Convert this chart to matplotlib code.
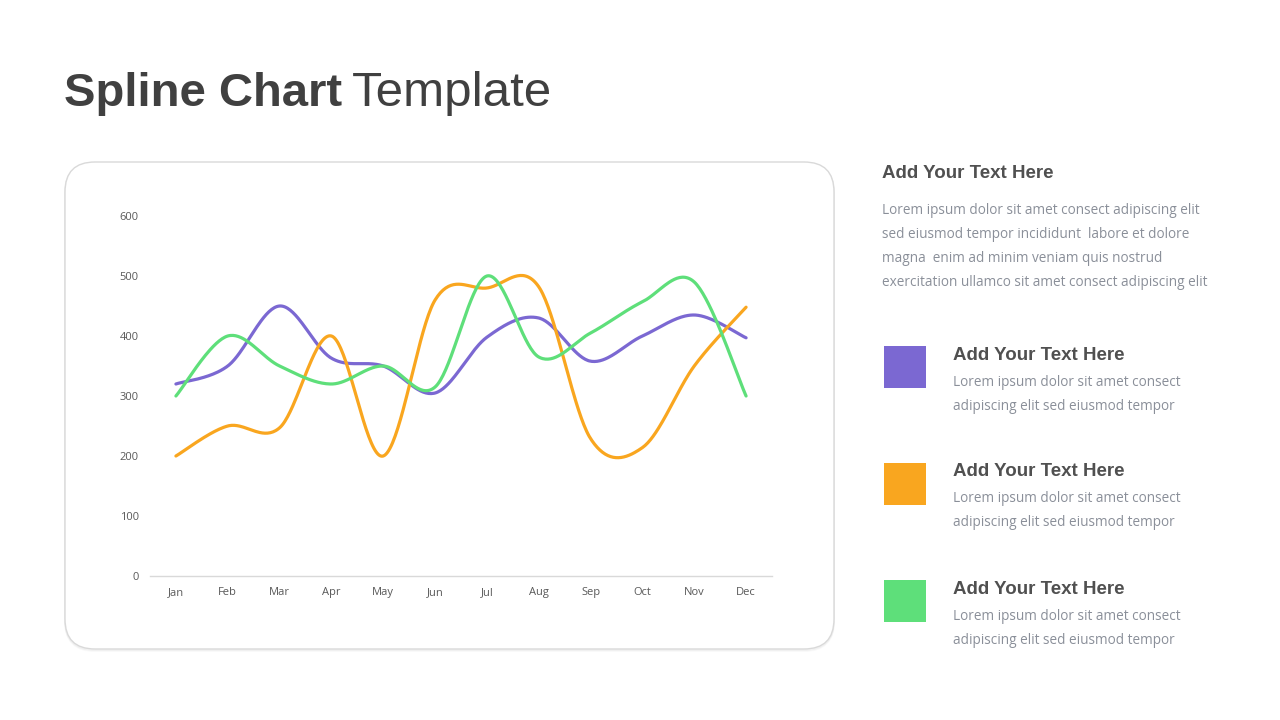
import numpy as np
import matplotlib
matplotlib.use("Agg")
import matplotlib.pyplot as plt
from matplotlib.patches import FancyBboxPatch, Rectangle

# Data
months = ['Jan', 'Feb', 'Mar', 'Apr', 'May', 'Jun', 'Jul', 'Aug', 'Sep', 'Oct', 'Nov', 'Dec']
purple_vals = [320, 350, 450, 363, 350, 305, 398, 430, 358, 400, 435, 397]
orange_vals = [200, 250, 247, 400, 200, 460, 480, 482, 229, 214, 350, 448]
green_vals = [300, 400, 350, 320, 350, 315, 500, 365, 405, 457, 490, 300]
y_ticks = [0, 100, 200, 300, 400, 500, 600]

PURPLE = '#7B68D2'
ORANGE = '#F9A61F'
GREEN = '#5EDF7A'
series = [(purple_vals, PURPLE), (orange_vals, ORANGE), (green_vals, GREEN)]

heading = 'Add Your Text Here'
intro_lines = ['Lorem ipsum dolor sit amet consect adipiscing elit',
               'sed eiusmod tempor incididunt  labore et dolore',
               'magna  enim ad minim veniam quis nostrud',
               'exercitation ullamco sit amet consect adipiscing elit']
item_lines = ['Lorem ipsum dolor sit amet consect',
              'adipiscing elit sed eiusmod tempor']

W, H = 1280, 720
AX_L, AX_R, AX_T, AX_B = 150, 772, 216, 576


def smooth(y, n=40):
    # Excel-like smoothed line: Catmull-Rom written as cubic Bezier segments
    y = np.asarray(y, float)
    x = np.arange(len(y), dtype=float)
    P = np.column_stack([x, y])
    m = len(P)
    t = np.linspace(0, 1, n)[:, None]
    pts = []
    for i in range(m - 1):
        p0, p3 = P[i], P[i + 1]
        prev, nxt = P[max(i - 1, 0)], P[min(i + 2, m - 1)]
        c1 = p0 + (p3 - prev) / 6
        c2 = p3 - (nxt - p0) / 6
        pts.append((1 - t) ** 3 * p0 + 3 * (1 - t) ** 2 * t * c1 + 3 * (1 - t) * t ** 2 * c2 + t ** 3 * p3)
    pts = np.vstack(pts)
    return pts[:, 0], pts[:, 1]


fig = plt.figure(figsize=(12.8, 7.2), dpi=100)
fig.patch.set_facecolor('white')

# overlay axes in pixel coordinates
bg = fig.add_axes([0, 0, 1, 1])
bg.set_xlim(0, W)
bg.set_ylim(H, 0)
bg.axis('off')

# card with a faint shadow
for off, a in [(2, 0.025), (1, 0.035)]:
    bg.add_patch(FancyBboxPatch((65, 162 + off), 769, 487, boxstyle='round,pad=0,rounding_size=30',
                                facecolor='none', edgecolor='black', alpha=a, lw=1.5))
bg.add_patch(FancyBboxPatch((65, 162), 769, 487, boxstyle='round,pad=0,rounding_size=30',
                            facecolor='white', edgecolor='#d9d9d9', lw=1))

# title
t1 = bg.text(64, 106, 'Spline Chart', fontsize=34, fontweight='bold', color='#404040',
             family='Liberation Sans', va='baseline', ha='left')
fig.canvas.draw()
bb = t1.get_window_extent(renderer=fig.canvas.get_renderer())
bg.text(bb.x1 + 10, 106, 'Template', fontsize=35.5, color='#404040',
        family='Liberation Sans', va='baseline', ha='left')

# right hand text
head_kw = dict(fontsize=13.5, fontweight='bold', color='#505050', family='Liberation Sans',
               va='center', ha='left')
body_kw = dict(fontsize=9.8, color='#8a8f99', family='Open Sans', va='center', ha='left')
bg.text(882, 173, heading, **head_kw)
for i, line in enumerate(intro_lines):
    bg.text(882, 211 + 24 * i, line, **body_kw)

for k, (_, col) in enumerate(series):
    y0 = 346 + 117 * k
    bg.add_patch(Rectangle((884, y0), 42, 42, facecolor=col, edgecolor='none'))
    bg.text(953, y0 + 9, heading, **head_kw)
    for i, line in enumerate(item_lines):
        bg.text(953, y0 + 36 + 24 * i, line, **body_kw)

# chart axes
ax = fig.add_axes([AX_L / W, (H - AX_B) / H, (AX_R - AX_L) / W, (AX_B - AX_T) / H])
ax.patch.set_alpha(0)
for vals, col in series:
    xs, ys = smooth(vals)
    ax.plot(xs, ys, color=col, lw=2.3, solid_capstyle='round')

ax.set_xlim(-0.5, len(months) - 0.5)
ax.set_ylim(0, 600)
ax.set_xticks(range(len(months)))
ax.set_xticklabels(months)
ax.set_yticks(y_ticks)
for s in ['top', 'right', 'left']:
    ax.spines[s].set_visible(False)
ax.spines['bottom'].set_color('#d9d9d9')
ax.spines['bottom'].set_linewidth(1)
ax.tick_params(length=0, labelsize=8, labelcolor='#595959', pad=8)
ax.tick_params(axis='y', pad=8)
for lab in ax.get_xticklabels() + ax.get_yticklabels():
    lab.set_family('Open Sans')

fig.savefig('out.png', dpi=100, facecolor='white')
